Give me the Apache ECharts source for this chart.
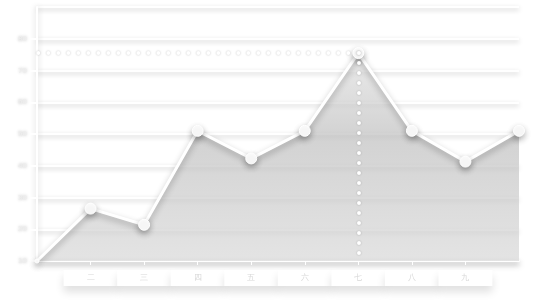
<!DOCTYPE html>
<html>
<head>
<meta charset="utf-8">
<script src="https://cdn.jsdelivr.net/npm/echarts@6/dist/echarts.min.js"></script>
<style>html,body{margin:0;padding:0;background:#fff;}#c{width:537px;height:300px;}</style>
</head>
<body>
<div id="c"></div>
<script>
var categories = ['一','二','三','四','五','六','七','八','九','十'];
var values = [10, 26.5, 21.4, 51, 42.3, 51, 75.5, 51, 41.3, 51];
var yTicks = [10, 20, 30, 40, 50, 60, 70, 80, 90];

var maxVal = Math.max.apply(null, values);
var maxIdx = values.indexOf(maxVal);
var shadow = {shadowColor: 'rgba(0,0,0,0.3)', shadowBlur: 6, shadowOffsetY: 3};

var chart = echarts.init(document.getElementById('c'));
chart.setOption({
  backgroundColor: '#ffffff',
  animation: false,
  grid: {left: 37, right: 18, top: 7, bottom: 39, outerBoundsMode: 'none', containLabel: false},
  xAxis: {
    type: 'category',
    data: categories,
    boundaryGap: false,
    axisLine: {lineStyle: Object.assign({color: '#ffffff', width: 2}, shadow)},
    axisTick: {alignWithLabel: true, length: 4, lineStyle: {color: '#ffffff', width: 1}},
    axisLabel: {
      color: '#d8d8d8', fontSize: 8, margin: 9,
      backgroundColor: '#ffffff', width: 46, padding: [4, 4], align: 'center',
      shadowColor: 'rgba(0,0,0,0.12)', shadowBlur: 8, shadowOffsetY: 6,
      formatter: function (v, i) { return i === 0 ? '' : v; }
    },
    splitLine: {show: false}
  },
  yAxis: {
    type: 'value',
    min: yTicks[0], max: yTicks[yTicks.length - 1], interval: 10,
    axisLine: {show: true, lineStyle: {color: '#ffffff', width: 2, shadowColor: 'rgba(0,0,0,0.2)', shadowBlur: 6}},
    axisTick: {show: true, length: 7, lineStyle: {color: '#ffffff', width: 2}},
    axisLabel: {
      color: '#eeeeee', fontSize: 8, margin: 10, showMaxLabel: false,
      textShadowColor: 'rgba(0,0,0,0.3)', textShadowBlur: 3
    },
    splitLine: {lineStyle: {color: '#ffffff', width: 2, shadowColor: 'rgba(0,0,0,0.22)', shadowBlur: 5, shadowOffsetY: 2}}
  },
  series: [{
    type: 'line',
    data: values,
    symbol: 'circle',
    symbolSize: function (v, p) { return p.dataIndex === 0 ? 4 : 11; },
    showAllSymbol: true,
    lineStyle: Object.assign({color: '#ffffff', width: 3}, shadow),
    itemStyle: Object.assign({color: '#ffffff', borderColor: '#ffffff'}, shadow),
    areaStyle: {
      color: new echarts.graphic.LinearGradient(0, 0, 0, 1, [
        {offset: 0, color: '#e2e2e2'},
        {offset: 0.4, color: '#bfbfbf'},
        {offset: 1, color: '#d8d8d8'}
      ])
    },
    markLine: {
      silent: true,
      symbol: 'none',
      label: {show: false},
      lineStyle: {color: '#ffffff', width: 4, type: [0, 10], cap: 'round', shadowColor: 'rgba(0,0,0,0.25)', shadowBlur: 2},
      data: [
        [{coord: [maxIdx, maxVal]}, {coord: [0, maxVal]}],
        [{coord: [maxIdx, maxVal]}, {coord: [maxIdx, yTicks[0]]}]
      ]
    }
  }]
});
</script>
</body>
</html>
